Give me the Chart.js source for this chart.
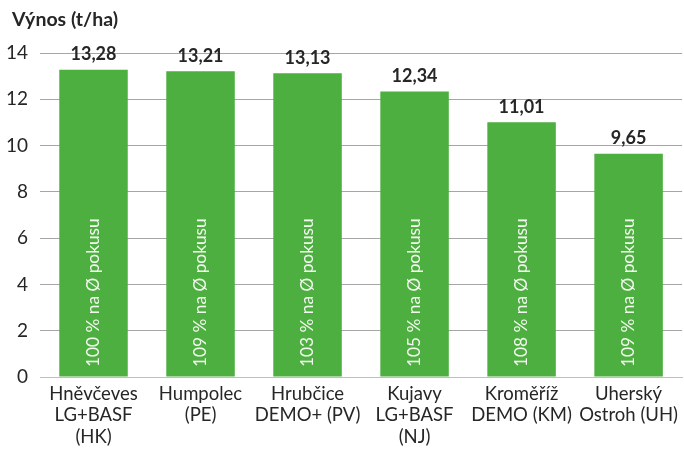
<!DOCTYPE html>
<html><head><meta charset="utf-8">
<script src="https://cdn.jsdelivr.net/npm/chart.js@4/dist/chart.umd.min.js"></script>
<style>html,body{margin:0;padding:0;background:#fff}#wrap{width:684px;height:450px}</style>
</head><body><div id="wrap"><canvas id="c" width="684" height="450"></canvas></div>
<script>
const categories = [
  ["Hněvčeves","LG+BASF","(HK)"],
  ["Humpolec","(PE)"],
  ["Hrubčice","DEMO+ (PV)"],
  ["Kujavy","LG+BASF","(NJ)"],
  ["Kroměříž","DEMO (KM)"],
  ["Uherský","Ostroh (UH)"]
];
const yields = [13.28, 13.21, 13.13, 12.34, 11.01, 9.65];
const yieldLabels = ["13,28","13,21","13,13","12,34","11,01","9,65"];
const percentLabels = ["100 % na Ø pokusu","109 % na Ø pokusu","103 % na Ø pokusu","105 % na Ø pokusu","108 % na Ø pokusu","109 % na Ø pokusu"];
const yTicks = [0,2,4,6,8,10,12,14];
const yTitle = "Výnos (t/ha)";

const FONT = "Lato, 'Open Sans', sans-serif";
const TEXT = "#262626";

const labelPlugin = {
  id: 'labels',
  afterDatasetsDraw(chart) {
    const ctx = chart.ctx;
    const meta = chart.getDatasetMeta(0);
    ctx.save();
    meta.data.forEach((bar, i) => {
      ctx.fillStyle = TEXT;
      ctx.font = "bold 18px " + FONT;
      ctx.textAlign = 'center';
      ctx.textBaseline = 'middle';
      ctx.fillText(yieldLabels[i], bar.x, bar.y - 15);
      ctx.save();
      ctx.translate(bar.x, chart.chartArea.bottom - 10);
      ctx.rotate(-Math.PI/2);
      ctx.fillStyle = "#f2f8ee";
      ctx.font = "17.3px " + FONT;
      ctx.textAlign = 'left';
      ctx.textBaseline = 'middle';
      ctx.fillText(percentLabels[i], 0, 0);
      ctx.restore();
    });
    ctx.fillStyle = TEXT;
    ctx.font = "bold 19.5px " + FONT;
    ctx.textAlign = 'left';
    ctx.textBaseline = 'middle';
    ctx.fillText(yTitle, 12, 20);
    ctx.restore();
  }
};

new Chart(document.getElementById('c'), {
  type: 'bar',
  data: {
    labels: categories,
    datasets: [{
      data: yields,
      backgroundColor: '#4caf3f',
      categoryPercentage: 1,
      barPercentage: 0.64
    }]
  },
  options: {
    responsive: false,
    animation: false,
    layout: { padding: { top: 53, right: 0, left: 0, bottom: 0 } },
    plugins: { legend: { display: false }, tooltip: { enabled: false } },
    scales: {
      x: {
        grid: { display: false, drawTicks: false },
        border: { display: true, color: '#bfbfbf', width: 1 },
        ticks: { color: TEXT, font: { family: FONT, size: 18.5, lineHeight: 1.17 }, padding: 6, maxRotation: 0, autoSkip: false },
        afterFit(s) { s.height = 73; }
      },
      y: {
        min: 0, max: 14,
        afterBuildTicks(s) { s.ticks = yTicks.map(v => ({ value: v })); },
        grid: { color: '#a6a6a6', drawTicks: false, lineWidth: 1 },
        border: { display: false },
        ticks: { color: TEXT, font: { family: FONT, size: 19 }, padding: 12 },
        afterFit(s) { s.width = 40; }
      }
    }
  },
  plugins: [labelPlugin]
});
</script></body></html>
